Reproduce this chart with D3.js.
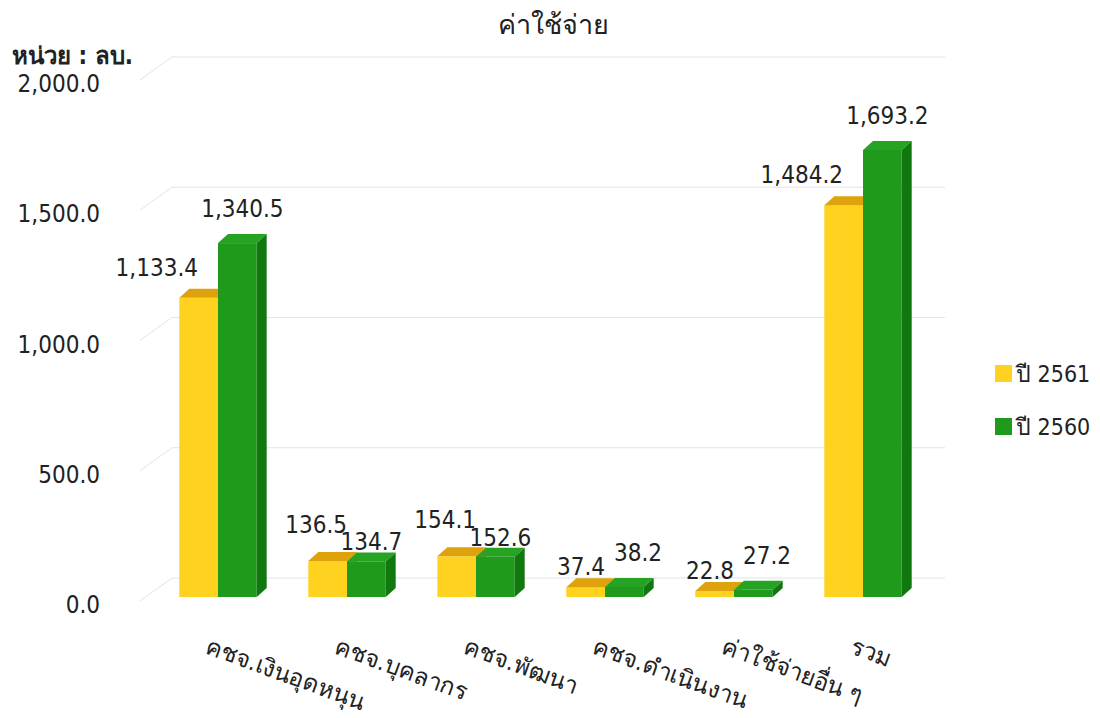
<!DOCTYPE html>
<html>
<head>
<meta charset="utf-8">
<script src="https://cdn.jsdelivr.net/npm/d3@7"></script>
<style>
  body { margin: 0; background: #fff; }
  svg text { font-family: "DejaVu Sans Condensed", "DejaVu Sans", sans-serif; fill: #222; }
</style>
</head>
<body>
<div id="chart"></div>
<script>
// data
const categories = ["คชจ.เงินอุดหนุน", "คชจ.บุคลากร", "คชจ.พัฒนา", "คชจ.ดำเนินงาน", "ค่าใช้จ่ายอื่น ๆ", "รวม"];
const seriesNames = ["ปี 2561", "ปี 2560"];
const values2561 = [1133.4, 136.5, 154.1, 37.4, 22.8, 1484.2];
const values2560 = [1340.5, 134.7, 152.6, 38.2, 27.2, 1693.2];
const yTicks = [0, 500, 1000, 1500, 2000];

const width = 1100, height = 718;
const floorY = 597;
const depth = {dx: 10, dy: -9};      // bar depth
const wall = {dx: 32, dy: -23};      // depth of the back wall

const faces = {
  "ปี 2561": {front: "#ffd21f", top: "#dea20c", side: "#c99208"},
  "ปี 2560": {front: "#1f9a1c", top: "#27a323", side: "#11780f"}
};

const svg = d3.select("#chart")
  .append("svg")
  .attr("width", width)
  .attr("height", height)
  .attr("viewBox", [0, 0, width, height]);

/* scales */
const xScale = d3.scaleBand()
  .domain(categories)
  .range([153.5, 927.5])
  .paddingInner(0.4)
  .paddingOuter(0.2);

const xSeries = d3.scaleBand()
  .domain(seriesNames)
  .range([0, xScale.bandwidth()]);

const yScale = d3.scaleLinear()
  .domain([0, 2000])
  .range([floorY, floorY - 528]);

// back wall sits a bit higher and flatter than the bar fronts
const yBack = d3.scaleLinear()
  .domain([0, 2000])
  .range([578, 57]);

/* gridlines on the back wall and the left wall */
const wallLeft = 172, wallRight = 945;
const grid = svg.append("g")
  .attr("stroke", "#e2e3ea")
  .attr("stroke-width", 1)
  .attr("fill", "none");

grid.selectAll("line.back")
  .data(yTicks)
  .join("line")
    .attr("class", "back")
    .attr("x1", wallLeft)
    .attr("x2", wallRight)
    .attr("y1", d => yBack(d))
    .attr("y2", d => yBack(d));

grid.selectAll("line.side")
  .data(yTicks)
  .join("line")
    .attr("class", "side")
    .attr("x1", wallLeft - wall.dx)
    .attr("x2", wallLeft)
    .attr("y1", d => yBack(d) - wall.dy)
    .attr("y2", d => yBack(d));

/* y axis labels */
const yAxis = svg.append("g")
  .attr("transform", "translate(100,27)")
  .call(d3.axisLeft(yBack).tickValues(yTicks).tickFormat(d3.format(",.1f")).tickSize(0).tickPadding(0));
yAxis.select(".domain").remove();
yAxis.selectAll("text")
  .style("font-size", "24px")
  .style("font-family", null)
  .attr("fill", "#222");

/* bars */
const rows = categories.map((c, i) => ({
  category: c,
  bars: [
    {series: seriesNames[0], value: values2561[i]},
    {series: seriesNames[1], value: values2560[i]}
  ]
}));

const groups = svg.selectAll("g.group")
  .data(rows)
  .join("g")
    .attr("class", "group")
    .attr("transform", d => `translate(${xScale(d.category)},0)`);

const bar = groups.selectAll("g.bar")
  .data(d => d.bars)
  .join("g")
    .attr("class", "bar");

// front face
bar.append("rect")
  .attr("x", d => xSeries(d.series))
  .attr("y", d => yScale(d.value))
  .attr("width", xSeries.bandwidth())
  .attr("height", d => floorY - yScale(d.value))
  .attr("fill", d => faces[d.series].front);

// top face
bar.append("path")
  .attr("fill", d => faces[d.series].top)
  .attr("d", d => {
    const x0 = xSeries(d.series), x1 = x0 + xSeries.bandwidth(), y = yScale(d.value);
    return `M${x0},${y}L${x1},${y}L${x1 + depth.dx},${y + depth.dy}L${x0 + depth.dx},${y + depth.dy}Z`;
  });

// right side face
bar.append("path")
  .attr("fill", d => faces[d.series].side)
  .attr("d", d => {
    const x1 = xSeries(d.series) + xSeries.bandwidth(), y = yScale(d.value);
    return `M${x1},${y}L${x1 + depth.dx},${y + depth.dy}L${x1 + depth.dx},${floorY + depth.dy}L${x1},${floorY}Z`;
  });

// draw the later series over the earlier one
bar.filter(d => d.series === seriesNames[1]).raise();

/* value labels */
const fmt = d3.format(",.1f");
groups.each(function(d) {
  const g = d3.select(this);
  const [a, b] = d.bars;
  const split = xSeries(b.series);           // where the second bar starts
  const tallerB = yScale(b.value) < yScale(a.value) - 20;
  const lowA = floorY - yScale(a.value) < 20;

  g.append("text")
    .attr("text-anchor", "end")
    .attr("x", split - (tallerB ? 20 : 0))
    .attr("y", yScale(a.value) - (tallerB ? 22 : lowA ? 12 : 28))
    .style("font-size", "24px")
    .text(fmt(a.value));
  const aRight = tallerB ? -Infinity : split;

  const lb = g.append("text")
    .attr("text-anchor", "start")
    .style("font-size", "24px")
    .text(fmt(b.value));
  const w = lb.node().getComputedTextLength();
  const natural = xSeries(b.series) + xSeries.bandwidth() / 2 + 5 - w / 2;
  const x = Math.max(natural, aRight + 9);
  // on taller neighbours the label sits lower instead of moving right
  const drop = x > natural && !lowA;
  lb.attr("x", drop ? natural : x)
    .attr("y", yScale(b.value) - (drop ? 11 : 26));
});

/* category labels */
svg.append("g")
  .selectAll("text")
  .data(categories)
  .join("text")
    .attr("text-anchor", "start")
    .attr("transform", d => `translate(${xScale(d) + xScale.bandwidth() / 2 - 14},653) rotate(20)`)
    .style("font-size", "24px")
    .text(d => d);

/* title and unit */
svg.append("text")
  .attr("x", 553)
  .attr("y", 34)
  .attr("text-anchor", "middle")
  .style("font-size", "27px")
  .style("font-weight", "500")
  .text("ค่าใช้จ่าย");

svg.append("text")
  .attr("x", 12)
  .attr("y", 64)
  .style("font-size", "24px")
  .style("font-weight", "bold")
  .text("หน่วย : ลบ.");

/* legend */
const legend = svg.append("g")
  .selectAll("g")
  .data(seriesNames)
  .join("g")
    .attr("transform", (d, i) => `translate(995,${365 + i * 53})`);

legend.append("rect")
  .attr("width", 17)
  .attr("height", 17)
  .attr("fill", d => faces[d].front);

legend.append("text")
  .attr("x", 21)
  .attr("y", 8.5)
  .attr("dy", "0.35em")
  .style("font-size", "23px")
  .text(d => d);
</script>
</body>
</html>
